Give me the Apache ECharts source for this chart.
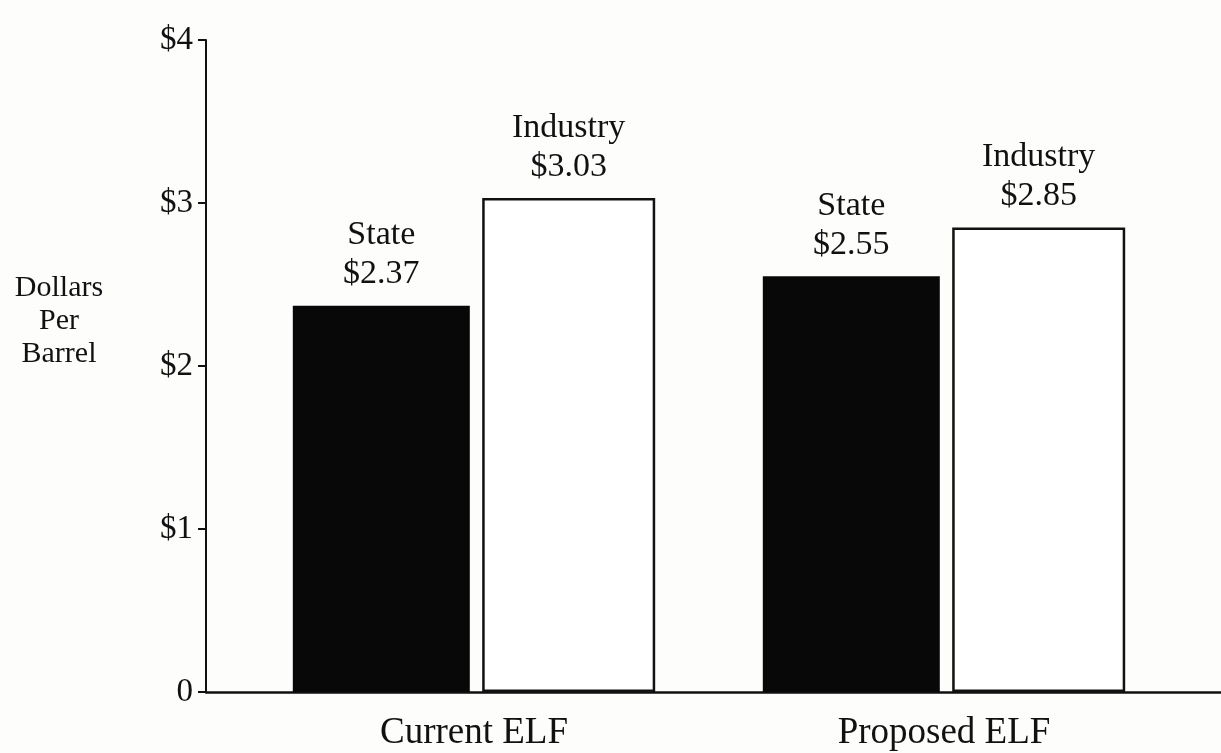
<!DOCTYPE html>
<html>
<head>
<meta charset="utf-8">
<script src="https://cdn.jsdelivr.net/npm/echarts@6/dist/echarts.min.js"></script>
<style>
  html, body { margin: 0; padding: 0; background: #fdfdfc; }
  #chart { width: 1221px; height: 753px; }
</style>
</head>
<body>
<div id="chart"></div>
<script>
// ELF scenarios and the per-barrel split between State and Industry
const categories = ['Current ELF', 'Proposed ELF'];
const stateValues = [2.37, 2.55];
const industryValues = [3.03, 2.85];
const seriesNames = ['State', 'Industry'];
const yTicks = [0, 1, 2, 3, 4];
const yAxisTitle = 'Dollars\nPer\nBarrel';

const serif = '"Liberation Serif", "DejaVu Serif", serif';

function valueLabel(name) {
  return {
    show: true,
    position: 'top',
    distance: 12,
    fontFamily: serif,
    fontSize: 34,
    lineHeight: 39,
    color: '#111',
    formatter: p => name + '\n$' + p.value.toFixed(2)
  };
}

const chart = echarts.init(document.getElementById('chart'));
chart.setOption({
  backgroundColor: '#fdfdfc',
  animation: false,
  title: {
    text: yAxisTitle,
    left: 54,
    top: 267,
    textAlign: 'center',
    textStyle: {
      fontFamily: serif,
      fontWeight: 'normal',
      fontSize: 30,
      lineHeight: 33,
      color: '#111',
      align: 'center'
    }
  },
  grid: [
    { left: 239, right: 42, top: 40, bottom: 61, outerBoundsMode: 'none', containLabel: false },
    { left: 206, right: 0, top: 40, bottom: 61, outerBoundsMode: 'none', containLabel: false }
  ],
  xAxis: [
    {
      type: 'category',
      gridIndex: 0,
      data: categories,
      axisLine: { show: false },
      axisTick: { show: false },
      axisLabel: {
        margin: 23,
        fontFamily: serif,
        fontSize: 37,
        color: '#111'
      }
    },
    {
      // baseline running the full width of the plot
      type: 'value',
      gridIndex: 1,
      min: 0,
      max: 1,
      axisLine: { show: true, lineStyle: { color: '#111', width: 2.5 } },
      axisTick: { show: false },
      axisLabel: { show: false },
      splitLine: { show: false }
    }
  ],
  yAxis: [
    {
      type: 'value',
      gridIndex: 0,
      min: yTicks[0],
      max: yTicks[yTicks.length - 1],
      interval: 1,
      offset: 33,
      axisLine: { show: true, lineStyle: { color: '#111', width: 2 } },
      axisTick: { show: true, length: 8, lineStyle: { color: '#111', width: 2 } },
      splitLine: { show: false },
      axisLabel: {
        margin: 13,
        fontFamily: serif,
        fontSize: 33,
        color: '#111',
        formatter: v => (v === 0 ? '0' : '$' + v)
      }
    },
    {
      type: 'value',
      gridIndex: 1,
      min: 0,
      max: 4,
      show: false
    }
  ],
  series: [
    {
      name: seriesNames[0],
      type: 'bar',
      xAxisIndex: 0,
      yAxisIndex: 0,
      data: stateValues,
      barWidth: 177,
      barGap: '7%',
      itemStyle: { color: '#080808', borderWidth: 0 },
      label: valueLabel(seriesNames[0])
    },
    {
      name: seriesNames[1],
      type: 'bar',
      xAxisIndex: 0,
      yAxisIndex: 0,
      data: industryValues,
      barWidth: 173,
      barGap: '7%',
      itemStyle: { color: '#ffffff', borderColor: '#111', borderWidth: 2.5 },
      label: valueLabel(seriesNames[1])
    }
  ]
});
</script>
</body>
</html>
